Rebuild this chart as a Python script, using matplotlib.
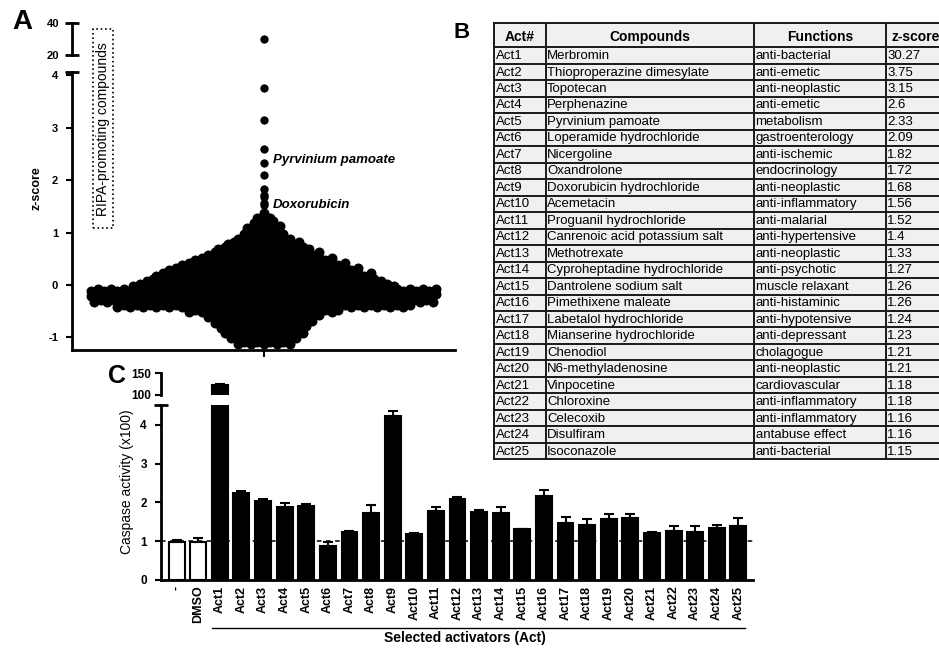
import numpy as np
import matplotlib
matplotlib.use("Agg")
import matplotlib.pyplot as plt
from matplotlib.patches import Rectangle

plt.rcParams['font.family'] = ['Liberation Sans', 'DejaVu Sans']

W, H = 939, 648

# ---- B: top 25 activators from the screen ----
act_ids = ["Act%d" % i for i in range(1, 26)]
compounds = ["Merbromin", "Thioproperazine dimesylate", "Topotecan", "Perphenazine",
             "Pyrvinium pamoate", "Loperamide hydrochloride", "Nicergoline", "Oxandrolone",
             "Doxorubicin hydrochloride", "Acemetacin", "Proguanil hydrochloride",
             "Canrenoic acid potassium salt", "Methotrexate", "Cyproheptadine hydrochloride",
             "Dantrolene sodium salt", "Pimethixene maleate", "Labetalol hydrochloride",
             "Mianserine hydrochloride", "Chenodiol", "N6-methyladenosine", "Vinpocetine",
             "Chloroxine", "Celecoxib", "Disulfiram", "Isoconazole"]
functions = ["anti-bacterial", "anti-emetic", "anti-neoplastic", "anti-emetic", "metabolism",
             "gastroenterology", "anti-ischemic", "endocrinology", "anti-neoplastic",
             "anti-inflammatory", "anti-malarial", "anti-hypertensive", "anti-neoplastic",
             "anti-psychotic", "muscle relaxant", "anti-histaminic", "anti-hypotensive",
             "anti-depressant", "cholagogue", "anti-neoplastic", "cardiovascular",
             "anti-inflammatory", "anti-inflammatory", "antabuse effect", "anti-bacterial"]
zscores = [30.27, 3.75, 3.15, 2.6, 2.33, 2.09, 1.82, 1.72, 1.68, 1.56, 1.52, 1.4, 1.33,
           1.27, 1.26, 1.26, 1.24, 1.23, 1.21, 1.21, 1.18, 1.18, 1.16, 1.16, 1.15]

# ---- A: rest of the library, binned by z-score (dots across the swarm per bin) ----
bulk_z = [-1.1, -1.0, -0.9, -0.8, -0.7, -0.6, -0.5, -0.4, -0.3, -0.2, -0.1, 0.0, 0.1,
          0.2, 0.3, 0.4, 0.5, 0.6, 0.7, 0.8, 0.9, 1.0, 1.1, 1.2, 1.3, 1.4]
bulk_n = [9, 11, 13, 14, 16, 18, 24, 46, 53, 54, 54, 41, 37,
          34, 30, 26, 22, 18, 15, 12, 9, 7, 6, 4, 3, 1]

# ---- C: caspase activity ----
groups = ["-", "DMSO"] + act_ids
casp_mean = [0.97, 0.98, 122.0, 2.23, 2.04, 1.87, 1.91, 0.88, 1.24, 1.73, 4.23, 1.19, 1.79,
             2.10, 1.76, 1.73, 1.31, 2.16, 1.46, 1.42, 1.57, 1.60, 1.22, 1.25, 1.24, 1.34, 1.40]
casp_err = [0.07, 0.11, 2.0, 0.07, 0.06, 0.12, 0.05, 0.10, 0.03, 0.19, 0.12, 0.02, 0.10,
            0.04, 0.05, 0.14, 0.01, 0.16, 0.16, 0.14, 0.13, 0.10, 0.01, 0.15, 0.15, 0.09, 0.20]


def px_box(x0, y0, x1, y1):
    # pixel box (top-left origin) -> figure fraction rect
    return [x0 / W, 1 - y1 / H, (x1 - x0) / W, (y1 - y0) / H]


def cap(ax, y, size=10):
    ax.plot([0], [y], marker='_', ms=size, mew=2, color='black',
            transform=ax.get_yaxis_transform(), clip_on=False)


fig = plt.figure(figsize=(W / 100, H / 100), dpi=100)

# ================= A =================
top_hits = [z for z in zscores if z > 1.45]
bx, by = [], []
for z, n in zip(bulk_z, bulk_n):
    for k in range(n):
        bx.append(k - (n - 1) / 2)
        by.append(z + (0.02 if k % 2 else -0.02))

span = 191.5 / 6.5
axA = fig.add_axes(px_box(72, 72, 455, 350))
axA2 = fig.add_axes(px_box(72, 23, 455, 55))
for ax in (axA, axA2):
    ax.patch.set_visible(False)
    ax.plot(bx, by, 'o', ms=7.2, color='black', mew=0)
    ax.plot([0] * len(top_hits), top_hits, 'o', ms=6, color='black', mew=0)
    ax.set_xlim(-span, span)
    for s in ('top', 'right'):
        ax.spines[s].set_visible(False)
    ax.spines['left'].set_linewidth(2)

axA.set_ylim(-1.24, 4.06)
axA.set_yticks([-1, 0, 1, 2, 3, 4])
axA.set_yticklabels(['-1', '0', '1', '2', '3', '4'], fontsize=8, fontweight='bold')
axA.set_xticks([0])
axA.set_xticklabels([''])
axA.spines['bottom'].set_linewidth(2)
axA.tick_params(axis='y', direction='out', length=4, width=1.5, pad=6)
axA.tick_params(axis='x', direction='out', length=5, width=1.5)
cap(axA, 4.06)

axA2.set_ylim(20, 40)
axA2.set_yticks([20, 40])
axA2.set_yticklabels(['20', '40'], fontsize=8, fontweight='bold')
axA2.spines['bottom'].set_visible(False)
axA2.set_xticks([])
axA2.tick_params(axis='y', direction='inout', length=10, width=2, pad=4)

axA.text(1.5, 2.38, "Pyrvinium pamoate", fontsize=9.5, fontweight='bold',
         fontstyle='italic', va='center', ha='left')
axA.text(1.5, 1.53, "Doxorubicin", fontsize=9.5, fontweight='bold',
         fontstyle='italic', va='center', ha='left')

fig.text(37 / W, 1 - 188 / H, "z-score", rotation=90, fontsize=9, fontweight='bold',
         ha='center', va='center')
fig.patches.append(Rectangle((93 / W, 1 - 228 / H), 20 / W, 199 / H, fill=False,
                             ls=':', lw=1.2, ec='black', transform=fig.transFigure))
fig.text(103 / W, 1 - 129 / H, "RIPA-promoting compounds", rotation=90, fontsize=10,
         ha='center', va='center')

# ================= B =================
col_w = [51.7, 208.3, 131.7, 59.3]
col_x = np.concatenate([[0], np.cumsum(col_w)])
head_h, row_h = 24.6, 16.48
tab_h = head_h + row_h * len(act_ids)
axB = fig.add_axes(px_box(494, 22.7, 494 + col_x[-1], 22.7 + tab_h))
axB.set_xlim(0, col_x[-1])
axB.set_ylim(tab_h, 0)
axB.axis('off')
axB.add_patch(Rectangle((0, 0), col_x[-1], tab_h, fc='#f0f0f0', ec='none'))
lines_y = [0, head_h] + [head_h + row_h * (i + 1) for i in range(len(act_ids))]
for y in lines_y:
    axB.plot([0, col_x[-1]], [y, y], color='#1a1a1a', lw=1.4, clip_on=False)
for x in col_x:
    axB.plot([x, x], [0, tab_h], color='#1a1a1a', lw=1.4, clip_on=False)

headers = ["Act#", "Compounds", "Functions", "z-score"]
for j, h in enumerate(headers):
    axB.text((col_x[j] + col_x[j + 1]) / 2, head_h / 2 + 2, h, fontsize=10,
             fontweight='bold', ha='center', va='center')
for i in range(len(act_ids)):
    yc = head_h + row_h * (i + 0.5) + 0.5
    row = [act_ids[i], compounds[i], functions[i], str(zscores[i])]
    for j, t in enumerate(row):
        axB.text(col_x[j] + 1.5, yc, t, fontsize=9.5, ha='left', va='center')

fig.text(462 / W, 1 - 33 / H, "B", fontsize=16, fontweight='bold', ha='center', va='center')
fig.text(22 / W, 1 - 22 / H, "A", fontsize=20, fontweight='bold', ha='center', va='center')
fig.text(117 / W, 1 - 376 / H, "C", fontsize=18, fontweight='bold', ha='center', va='center')

# ================= C =================
x = np.arange(len(groups))
colors = ['white', 'white'] + ['black'] * len(act_ids)
axC = fig.add_axes(px_box(160.7, 405, 753, 580))
axC2 = fig.add_axes(px_box(160.7, 373.3, 753, 394.7))
for ax in (axC, axC2):
    ax.patch.set_visible(False)
    ax.bar(x, casp_mean, width=0.74, color=colors, edgecolor='black', linewidth=1.5, zorder=3)
    ax.errorbar(x, casp_mean, yerr=[np.zeros(len(x)), casp_err], fmt='none',
                ecolor='black', elinewidth=1.5, capsize=3.5, capthick=1.5, zorder=4)
    ax.set_xlim(-0.74, 26.68)
    for s in ('top', 'right'):
        ax.spines[s].set_visible(False)
    ax.spines['left'].set_linewidth(2)

axC.axhline(1, color='black', lw=1.1, ls=(0, (3, 3)), zorder=1)
axC.set_ylim(0, 4.51)
axC.set_yticks([0, 1, 2, 3, 4])
axC.set_yticklabels(['0', '1', '2', '3', '4'], fontsize=8.5, fontweight='bold')
axC.spines['bottom'].set_linewidth(2)
axC.set_xticks(x)
axC.set_xticklabels(groups, rotation=90, fontsize=9, fontweight='bold')
axC.tick_params(axis='x', direction='in', length=3, width=1, pad=4)
axC.tick_params(axis='y', direction='out', length=4, width=1.5, pad=6)
cap(axC, 4.51)

axC2.set_ylim(100, 150)
axC2.set_yticks([100, 150])
axC2.set_yticklabels(['100', '150'], fontsize=8.5, fontweight='bold')
axC2.spines['bottom'].set_visible(False)
axC2.set_xticks([])
axC2.tick_params(axis='y', direction='out', length=4, width=1.5, pad=3)

fig.text(127 / W, 1 - 482 / H, "Caspase activity (x100)", rotation=90, fontsize=10,
         ha='center', va='center')
tr = axC.get_xaxis_transform()
axC.plot([1.62, 26.3], [-0.273, -0.273], color='black', lw=1, transform=tr, clip_on=False)
axC.text(13.35, -0.33, "Selected activators (Act)", transform=tr, fontsize=10,
         fontweight='bold', ha='center', va='center')

fig.savefig("out.png", dpi=100)
